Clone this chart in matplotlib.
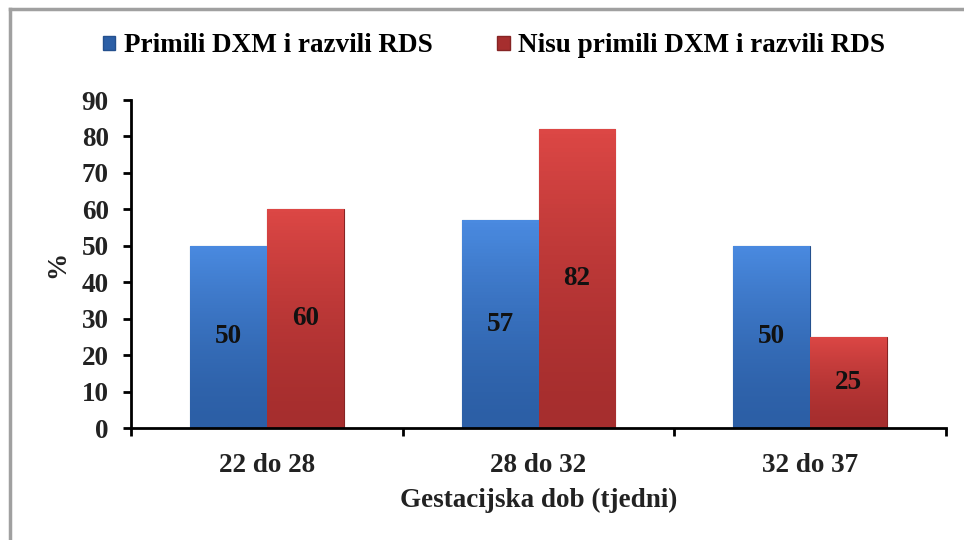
import matplotlib
matplotlib.use('Agg')
import matplotlib.pyplot as plt
from matplotlib.lines import Line2D
import numpy as np

categories = ['22 do 28', '28 do 32', '32 do 37']
series_names = ['Primili DXM i razvili RDS', 'Nisu primili DXM i razvili RDS']
primili = [50, 57, 50]
nisu_primili = [60, 82, 25]
yticks = list(range(0, 100, 10))

plt.rcParams['font.family'] = ['Liberation Serif', 'DejaVu Serif']
plt.rcParams['font.weight'] = 'bold'

W, H = 964, 540
FS = 19.5
fig = plt.figure(figsize=(W / 100, H / 100), dpi=100)
ax = fig.add_axes([131 / W, 1 - 428 / H, 815 / W, 328 / H])

x = np.arange(len(categories))
bw = 0.283
# (top, bottom, edge)
colors = [('#4a8ae0', '#2c5fa6', '#24508e'), ('#dc4745', '#a62e2e', '#862424')]

for i, (vals, cols) in enumerate(zip([primili, nisu_primili], colors)):
    bars = ax.bar(x + (i - 0.5) * bw, vals, bw, color=cols[1],
                  edgecolor=cols[2], linewidth=0.8, label=series_names[i], zorder=2)
    # top-to-bottom shading inside each bar
    cmap = matplotlib.colors.LinearSegmentedColormap.from_list('g', [cols[1], cols[0]])
    for b in bars:
        grad = np.linspace(0, 1, 64).reshape(-1, 1) ** 1.5
        im = ax.imshow(grad, cmap=cmap, aspect='auto', origin='lower', zorder=2.5,
                       extent=(b.get_x(), b.get_x() + b.get_width(), 0, b.get_height()))
        im.set_clip_path(b)
    for b, v in zip(bars, vals):
        ax.text(b.get_x() + b.get_width() / 2, v / 2, str(v), ha='center', va='center',
                fontsize=FS, fontweight='bold', color='#111111', zorder=4)

ax.set_xlim(-0.5, 2.5)
ax.set_ylim(0, 90)
ax.set_yticks(yticks)
ax.set_yticklabels([str(t) for t in yticks], fontsize=FS, fontweight='bold', color='#222222')
ax.set_xticks(x)
ax.set_xticklabels(categories, fontsize=FS, fontweight='bold', color='#222222')
ax.tick_params(axis='x', length=0, pad=18)
ax.set_xticks([-0.5, 0.5, 1.5, 2.5], minor=True)
ax.tick_params(axis='x', which='minor', length=6, width=2, color='black', direction='out')
ax.tick_params(axis='y', length=6, width=2, direction='out', pad=10)

for s in ['top', 'right']:
    ax.spines[s].set_visible(False)
for s in ['left', 'bottom']:
    ax.spines[s].set_linewidth(2)
    ax.spines[s].set_color('black')

ax.set_xlabel('Gestacijska dob (tjedni)', fontsize=FS, fontweight='bold', color='#222222', labelpad=7)
ax.set_ylabel('%', fontsize=FS, fontweight='bold', color='#222222', labelpad=8)

handles = [matplotlib.patches.Patch(facecolor=c[1], edgecolor=c[2]) for c in colors]
fig.legend(handles, series_names, loc='center', bbox_to_anchor=(494 / W, 1 - 46 / H),
           ncol=2, frameon=False, prop={'size': FS, 'weight': 'bold'},
           handlelength=0.45, handleheight=0.45, handletextpad=0.3, columnspacing=2.4)

# outer chart frame (top and left edges visible)
fig.add_artist(Line2D([10 / W, 1], [1 - 9 / H, 1 - 9 / H], color='#a0a0a0', lw=2.5))
fig.add_artist(Line2D([10 / W, 10 / W], [0, 1 - 9 / H], color='#a0a0a0', lw=2.5))

fig.savefig('out.png', dpi=100)
